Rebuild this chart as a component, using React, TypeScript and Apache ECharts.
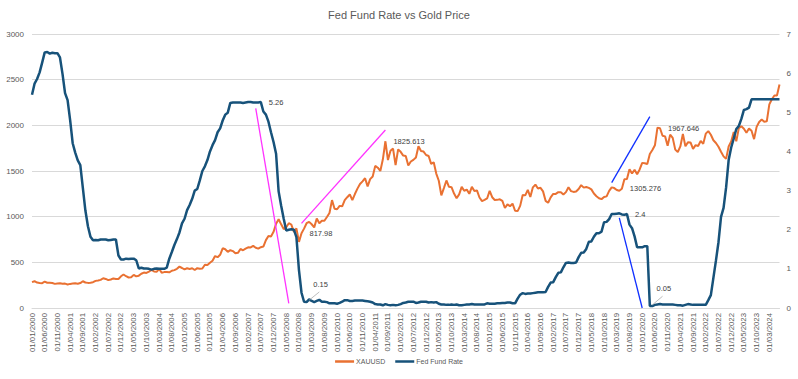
import React, { useEffect, useRef } from "react";
import * as echarts from "echarts";

// Monthly categories: 01/01/2000 .. 01/07/2024
const startYear = 2000;
const monthCount = 295;
const categories: string[] = [];
for (let i = 0; i < monthCount; i++) {
  const y = startYear + Math.floor(i / 12);
  const m = (i % 12) + 1;
  categories.push(`01/${m < 10 ? "0" + m : m}/${y}`);
}

// XAUUSD (left axis)
const goldPrice: number[] = [
  283, 293, 278, 274, 272, 288, 276, 277, 273, 264, 269, 272,
  266, 267, 258, 264, 267, 270, 265, 273, 293, 279, 275, 277,
  282, 297, 302, 308, 326, 318, 305, 312, 324, 318, 317, 347,
  367, 348, 334, 336, 363, 346, 354, 375, 388, 384, 398, 416,
  400, 396, 427, 387, 393, 395, 391, 408, 415, 429, 453, 438,
  422, 435, 428, 435, 416, 436, 429, 433, 473, 470, 495, 517,
  569, 556, 582, 654, 643, 614, 633, 623, 599, 604, 646, 632,
  650, 665, 663, 680, 659, 650, 666, 673, 743, 789, 783, 834,
  923, 972, 916, 864, 885, 928, 913, 833, 871, 724, 817.98, 869,
  928, 943, 917, 883, 979, 927, 955, 955, 996, 1040, 1181, 1087,
  1081, 1118, 1113, 1180, 1213, 1244, 1181, 1248, 1307, 1357, 1386, 1421,
  1332, 1411, 1439, 1556, 1536, 1500, 1628, 1825.613, 1620, 1722, 1746, 1565,
  1737, 1710, 1669, 1664, 1561, 1604, 1622, 1648, 1772, 1719, 1713, 1675,
  1664, 1578, 1596, 1472, 1393, 1234, 1313, 1396, 1327, 1323, 1253, 1202,
  1244, 1326, 1284, 1296, 1250, 1327, 1282, 1287, 1210, 1171, 1183, 1199,
  1283, 1213, 1183, 1184, 1190, 1172, 1095, 1134, 1115, 1142, 1065, 1061,
  1118, 1238, 1233, 1293, 1215, 1321, 1351, 1309, 1316, 1277, 1173, 1152,
  1211, 1249, 1249, 1268, 1268, 1242, 1269, 1322, 1280, 1271, 1275, 1303,
  1345, 1318, 1325, 1315, 1299, 1253, 1224, 1202, 1192, 1215, 1222, 1282,
  1321, 1313, 1292, 1284, 1305.276, 1409, 1413, 1520, 1472, 1513, 1464, 1517,
  1589, 1585, 1577, 1687, 1730, 1781, 1975, 1967.646, 1886, 1879, 1776, 1898,
  1863, 1734, 1708, 1769, 1906, 1770, 1814, 1813, 1743, 1783, 1774, 1829,
  1797, 1909, 1937, 1897, 1837, 1807, 1766, 1711, 1660, 1633, 1768, 1824,
  1928, 1826, 1969, 1990, 1963, 1919, 1965, 1940, 1849, 1983, 2036, 2063,
  2039, 2044, 2230, 2286, 2327, 2326, 2448,
];

// Fed Fund Rate (right axis)
const fedRate: number[] = [
  5.45, 5.73, 5.85, 6.02, 6.27, 6.53, 6.54, 6.5, 6.52, 6.51, 6.51, 6.4,
  5.98, 5.49, 5.31, 4.8, 4.21, 3.97, 3.77, 3.65, 3.07, 2.49, 2.09, 1.82,
  1.73, 1.74, 1.73, 1.75, 1.75, 1.75, 1.73, 1.74, 1.75, 1.75, 1.34, 1.24,
  1.24, 1.26, 1.25, 1.26, 1.26, 1.22, 1.01, 1.03, 1.01, 1.01, 1.0, 0.98,
  1.0, 1.01, 1.0, 1.0, 1.0, 1.03, 1.26, 1.43, 1.61, 1.76, 1.93, 2.16,
  2.28, 2.5, 2.63, 2.79, 3.0, 3.04, 3.26, 3.5, 3.62, 3.78, 4.0, 4.16,
  4.29, 4.49, 4.59, 4.79, 4.94, 4.99, 5.24, 5.25, 5.25, 5.25, 5.25, 5.24,
  5.25, 5.26, 5.26, 5.25, 5.25, 5.25, 5.26, 5.02, 4.94, 4.76, 4.49, 4.24,
  3.94, 2.98, 2.61, 2.28, 1.98, 2.0, 2.01, 2.0, 1.81, 0.97, 0.39, 0.16,
  0.15, 0.22, 0.18, 0.15, 0.18, 0.21, 0.16, 0.16, 0.15, 0.12, 0.12, 0.12,
  0.11, 0.13, 0.16, 0.2, 0.2, 0.18, 0.18, 0.19, 0.19, 0.19, 0.19, 0.18,
  0.17, 0.16, 0.14, 0.1, 0.09, 0.09, 0.07, 0.1, 0.08, 0.07, 0.08, 0.07,
  0.08, 0.1, 0.13, 0.14, 0.16, 0.16, 0.16, 0.13, 0.14, 0.16, 0.16, 0.16,
  0.14, 0.15, 0.14, 0.15, 0.11, 0.09, 0.09, 0.08, 0.08, 0.09, 0.08, 0.09,
  0.07, 0.07, 0.08, 0.09, 0.09, 0.1, 0.09, 0.09, 0.09, 0.09, 0.09, 0.12,
  0.11, 0.11, 0.11, 0.12, 0.12, 0.13, 0.13, 0.14, 0.14, 0.12, 0.12, 0.24,
  0.34, 0.38, 0.36, 0.37, 0.37, 0.38, 0.39, 0.4, 0.4, 0.4, 0.41, 0.54,
  0.65, 0.66, 0.79, 0.9, 0.91, 1.04, 1.15, 1.16, 1.15, 1.15, 1.16, 1.3,
  1.41, 1.42, 1.51, 1.69, 1.7, 1.82, 1.91, 1.91, 1.95, 2.19, 2.2, 2.27,
  2.4, 2.4, 2.41, 2.42, 2.39, 2.38, 2.4, 2.13, 2.04, 1.83, 1.55, 1.55,
  1.55, 1.58, 1.58, 0.05, 0.05, 0.08, 0.09, 0.1, 0.09, 0.09, 0.09, 0.09,
  0.09, 0.08, 0.07, 0.07, 0.06, 0.08, 0.1, 0.09, 0.08, 0.08, 0.08, 0.08,
  0.08, 0.08, 0.2, 0.33, 0.77, 1.21, 1.68, 2.33, 2.56, 3.08, 3.78, 4.1,
  4.33, 4.57, 4.65, 4.83, 5.06, 5.08, 5.12, 5.33, 5.33, 5.33, 5.33, 5.33,
  5.33, 5.33, 5.33, 5.33, 5.33, 5.33, 5.33,
];

// Axis ticks
const leftTicks = { min: 0, max: 3000, step: 500 };
const rightTicks = { min: 0, max: 7, step: 1 };

// Labelled points (month index)
const goldLabelIdx = [106, 139, 232, 247];
const fedLabelIdx = [90, 234];
const fedLowLabelIdx = [108, 243];

// Hand-drawn trend annotations, in data coordinates [monthIndex, goldValue]
const magentaLines: [number, number][][] = [
  [[88, 2186], [101, 51]],
  [[106, 927], [139, 1949]],
];
const blueLines: [number, number][][] = [
  [[228, 1372], [243, 2095]],
  [[231, 986], [240, 0]],
];
// Leader lines for low labels, in [monthIndex, rate]
const leaderLines: [number, number][][] = [
  [[109, 0.2], [113, 0.41]],
  [[244, 0.08], [248, 0.3]],
];

const FONT = "'Liberation Sans', Arial, sans-serif";
const GOLD_COLOR = "#E97132";
const FED_COLOR = "#17527A";
const TEXT = "#595959";

export default function App() {
  const ref = useRef<HTMLDivElement>(null);

  useEffect(() => {
    if (!ref.current) return;
    const chart = echarts.init(ref.current, undefined, { renderer: "svg" });

    const lineSeg = (pair: [number, number][], color: string, width: number) => [
      { coord: pair[0], lineStyle: { color, width, type: "solid" } },
      { coord: pair[1] },
    ];

    const option: any = {
      animation: false,
      backgroundColor: "#ffffff",
      textStyle: { fontFamily: FONT },
      title: {
        text: "Fed Fund Rate vs Gold Price",
        left: "center",
        top: 9,
        padding: 0,
        textStyle: { fontSize: 11, fontWeight: "normal", color: TEXT, fontFamily: FONT },
      },
      legend: {
        data: ["XAUUSD", "Fed Fund Rate"],
        left: "center",
        top: 358,
        padding: 0,
        icon: "rect",
        itemWidth: 19,
        itemHeight: 2.5,
        itemGap: 10,
        textStyle: { fontSize: 7, color: TEXT, fontFamily: FONT, padding: [0, 0, 0, -3] },
      },
      grid: { left: 32, top: 34, width: 747.5, height: 274, containLabel: false },
      xAxis: {
        type: "category",
        data: categories,
        boundaryGap: false,
        axisLine: { lineStyle: { color: "#D9D9D9", width: 1 } },
        axisTick: { show: false },
        splitLine: { show: false },
        axisLabel: {
          interval: 4,
          rotate: 90,
          fontSize: 7.8,
          color: TEXT,
          margin: 5,
          fontFamily: FONT,
        },
      },
      yAxis: [
        {
          type: "value",
          min: leftTicks.min,
          max: leftTicks.max,
          interval: leftTicks.step,
          axisLine: { show: false },
          axisTick: { show: false },
          axisLabel: {
            fontSize: 8,
            color: TEXT,
            margin: 8,
            fontFamily: FONT,
            formatter: (v: number) => String(v),
          },
          splitLine: { lineStyle: { color: "#D9D9D9", width: 1 } },
        },
        {
          type: "value",
          position: "right",
          min: rightTicks.min,
          max: rightTicks.max,
          interval: rightTicks.step,
          axisLine: { show: false },
          axisTick: { show: false },
          axisLabel: {
            fontSize: 8,
            color: TEXT,
            margin: 7,
            fontFamily: FONT,
            formatter: (v: number) => String(v),
          },
          splitLine: { show: false },
        },
      ],
      series: [
        {
          name: "XAUUSD",
          type: "line",
          data: goldPrice,
          yAxisIndex: 0,
          showSymbol: false,
          lineStyle: { color: GOLD_COLOR, width: 2 },
          itemStyle: { color: GOLD_COLOR },
          markPoint: {
            symbol: "circle",
            symbolSize: 0,
            silent: true,
            label: {
              show: true,
              position: "right",
              distance: 8,
              fontSize: 7.5,
              color: "#404040",
              fontFamily: FONT,
            },
            data: goldLabelIdx.map((i) => ({ coord: [i, goldPrice[i]], value: goldPrice[i] })),
          },
          markLine: {
            silent: true,
            symbol: ["none", "none"],
            label: { show: false },
            data: [
              ...magentaLines.map((p) => lineSeg(p, "#FF33FF", 1.3)),
              ...blueLines.map((p) => lineSeg(p, "#1030FF", 1.3)),
            ],
          },
        },
        {
          name: "Fed Fund Rate",
          type: "line",
          data: fedRate,
          yAxisIndex: 1,
          showSymbol: false,
          lineStyle: { color: FED_COLOR, width: 2.5 },
          itemStyle: { color: FED_COLOR },
          markPoint: {
            symbol: "circle",
            symbolSize: 0,
            silent: true,
            label: { show: true, fontSize: 7.5, color: "#404040", fontFamily: FONT },
            data: [
              ...fedLabelIdx.map((i) => ({
                coord: [i, fedRate[i]],
                value: fedRate[i],
                label: { position: "right", distance: 8 },
              })),
              ...fedLowLabelIdx.map((i) => ({
                coord: [i, fedRate[i]],
                value: fedRate[i],
                label: { position: "inside", offset: [14, -18] },
              })),
            ],
          },
          markLine: {
            silent: true,
            symbol: ["none", "none"],
            label: { show: false },
            data: leaderLines.map((p) => lineSeg(p, "#A6A6A6", 0.75)),
          },
        },
      ],
    };

    chart.setOption(option);
    return () => chart.dispose();
  }, []);

  return (
    <div
      ref={ref}
      style={{ position: "absolute", left: 0, top: 0, width: 798, height: 379 }}
    />
  );
}
